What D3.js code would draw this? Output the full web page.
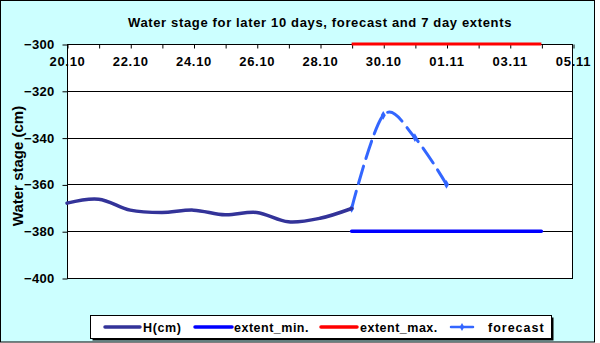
<!DOCTYPE html>
<html><head><meta charset="utf-8">
<script src="https://cdn.jsdelivr.net/npm/d3@7"></script>
<style>body{margin:0;background:#fff}svg{display:block}text{font-family:"Liberation Sans",Arial,sans-serif;font-weight:bold}</style>
</head><body><svg id="c" width="600" height="343"></svg>
<script>
const tickLabels = ["20.10","22.10","24.10","26.10","28.10","30.10","01.11","03.11","05.11"];
const dayTicks = ["20.10","21.10","22.10","23.10","24.10","25.10","26.10","27.10","28.10","29.10","30.10","31.10","01.11","02.11","03.11","04.11","05.11"];
const hDates = ["20.10","21.10","22.10","23.10","24.10","25.10","26.10","27.10","28.10","29.10"];
const hValues = [-368,-366.3,-371,-372,-371,-373,-372,-376,-374.5,-370.3];
const fcDates = ["29.10","30.10","31.10","01.11"];
const fcValues = [-370.3,-330.5,-340,-360];
const extDates = ["29.10","04.11"];
const extMin = [-380,-380];
const extMax = [-300,-300];
const yTicks = [-300,-320,-340,-360,-380,-400];
const legendItems = ["H(cm)","extent_min.","extent_max.","forecast"];
const yTitle = "Water stage (cm)";

const parse = d3.timeParse("%d.%m.%Y");
const P = s => parse(s + ".2023");
const svg = d3.select("#c");
const L=67,R=573,T=44,B=278;
svg.append("rect").attr("x",0.5).attr("y",0.5).attr("width",594).attr("height",341.5).attr("fill","#ccffff").attr("stroke","#000");
const x = d3.scaleTime().domain([P("20.10"),P("05.11")]).range([L,R]);
const y = d3.scaleLinear().domain([-400,-300]).range([B,T]);
svg.append("rect").attr("x",L).attr("y",T).attr("width",R-L).attr("height",B-T).attr("fill","#fff");
// grid
svg.append("g").selectAll("line").data(yTicks.filter(v=>v>-400&&v<-300)).join("line")
  .attr("x1",L).attr("x2",R).attr("y1",d=>Math.round(y(d))+0.5).attr("y2",d=>Math.round(y(d))+0.5).attr("stroke","#000");
svg.append("rect").attr("x",L+0.5).attr("y",T+0.5).attr("width",R-L-1).attr("height",B-T).attr("fill","none").attr("stroke","#000");
// y axis
const ya = svg.append("g").attr("transform",`translate(${L+0.5},0.5)`)
  .call(d3.axisLeft(y).tickValues(yTicks).tickSize(5).tickPadding(8));
ya.select(".domain").remove();
ya.selectAll("line").attr("stroke","#000");
ya.selectAll("text").attr("font-size",13).attr("letter-spacing","0.3px").attr("font-family","Liberation Sans, Arial").attr("font-weight","bold").attr("fill","#000").attr("dy","0.3em");
// x axis at top, ticks inside
const xa = svg.append("g").attr("transform",`translate(0.5,${T+0.5})`)
  .call(d3.axisBottom(x).tickValues(dayTicks.map(P)).tickSize(4).tickFormat(""));
xa.select(".domain").remove();
xa.selectAll("line").attr("stroke","#000");
svg.append("g").selectAll("text").data(tickLabels).join("text")
  .attr("x",d=>x(P(d))+0.5).attr("y",65.5).attr("text-anchor","middle").attr("font-size",13).attr("letter-spacing","0.7px").text(d=>d);
// series
const line = d3.line().x(d=>x(P(d[0]))).y(d=>y(d[1]));
const smooth = d3.line().x(d=>x(P(d[0]))).y(d=>y(d[1])).curve(d3.curveCatmullRom.alpha(0));
svg.append("path").attr("d",line(extDates.map((d,i)=>[d,extMin[i]]))).attr("stroke","#0000ff").attr("stroke-width",3.5).attr("fill","none").attr("stroke-linecap","round");
svg.append("path").attr("d",line(extDates.map((d,i)=>[d,extMax[i]]))).attr("stroke","#ff0000").attr("stroke-width",3).attr("fill","none");
svg.append("path").attr("d",smooth(fcDates.map((d,i)=>[d,fcValues[i]]))).attr("stroke","#3366ff").attr("stroke-width",3).attr("fill","none").attr("stroke-dasharray","18,8").attr("stroke-linecap","round");
svg.append("g").selectAll("path").data(fcDates.map((d,i)=>[d,fcValues[i]])).join("path")
  .attr("d",d3.symbol(d3.symbolDiamond,22)).attr("transform",d=>`translate(${x(P(d[0]))},${y(d[1])})`).attr("fill","#3366ff");
svg.append("path").attr("d",smooth(hDates.map((d,i)=>[d,hValues[i]]))).attr("stroke","#333399").attr("stroke-width",3.5).attr("fill","none").attr("stroke-linecap","round");
// titles
svg.append("text").attr("x",320).attr("y",27).attr("text-anchor","middle").attr("font-size",13).attr("letter-spacing","0.65px").text("Water stage for later 10 days, forecast and 7 day extents");
svg.append("text").attr("transform","translate(23,166) rotate(-90)").attr("text-anchor","middle").attr("font-size",15).text(yTitle);
// legend
svg.append("rect").attr("x",92.5).attr("y",317.5).attr("width",461).attr("height",23).attr("fill","#000");
svg.append("rect").attr("x",90.5).attr("y",315.5).attr("width",461).attr("height",23).attr("fill","#fff").attr("stroke","#000");
const lx=[105,195,321,451], lw=[35,37,36,22], tx=[143,234,360,488];
const lc=["#333399","#0000ff","#ff0000","#3366ff"];
const ls=["0.6px","0.5px","0.5px","1px"];
legendItems.forEach((t,i)=>{
  svg.append("line").attr("x1",lx[i]).attr("x2",lx[i]+lw[i]).attr("y1",327).attr("y2",327).attr("stroke",lc[i]).attr("stroke-width",i==3?2.5:3.5).attr("stroke-linecap","round");
  if(i==3) svg.append("path").attr("d",d3.symbol(d3.symbolDiamond,18)).attr("transform",`translate(${lx[i]+lw[i]/2},327)`).attr("fill",lc[i]);
  svg.append("text").attr("x",tx[i]).attr("y",331.5).attr("font-size",12.5).attr("letter-spacing",ls[i]).text(t);
});
</script></body></html>
